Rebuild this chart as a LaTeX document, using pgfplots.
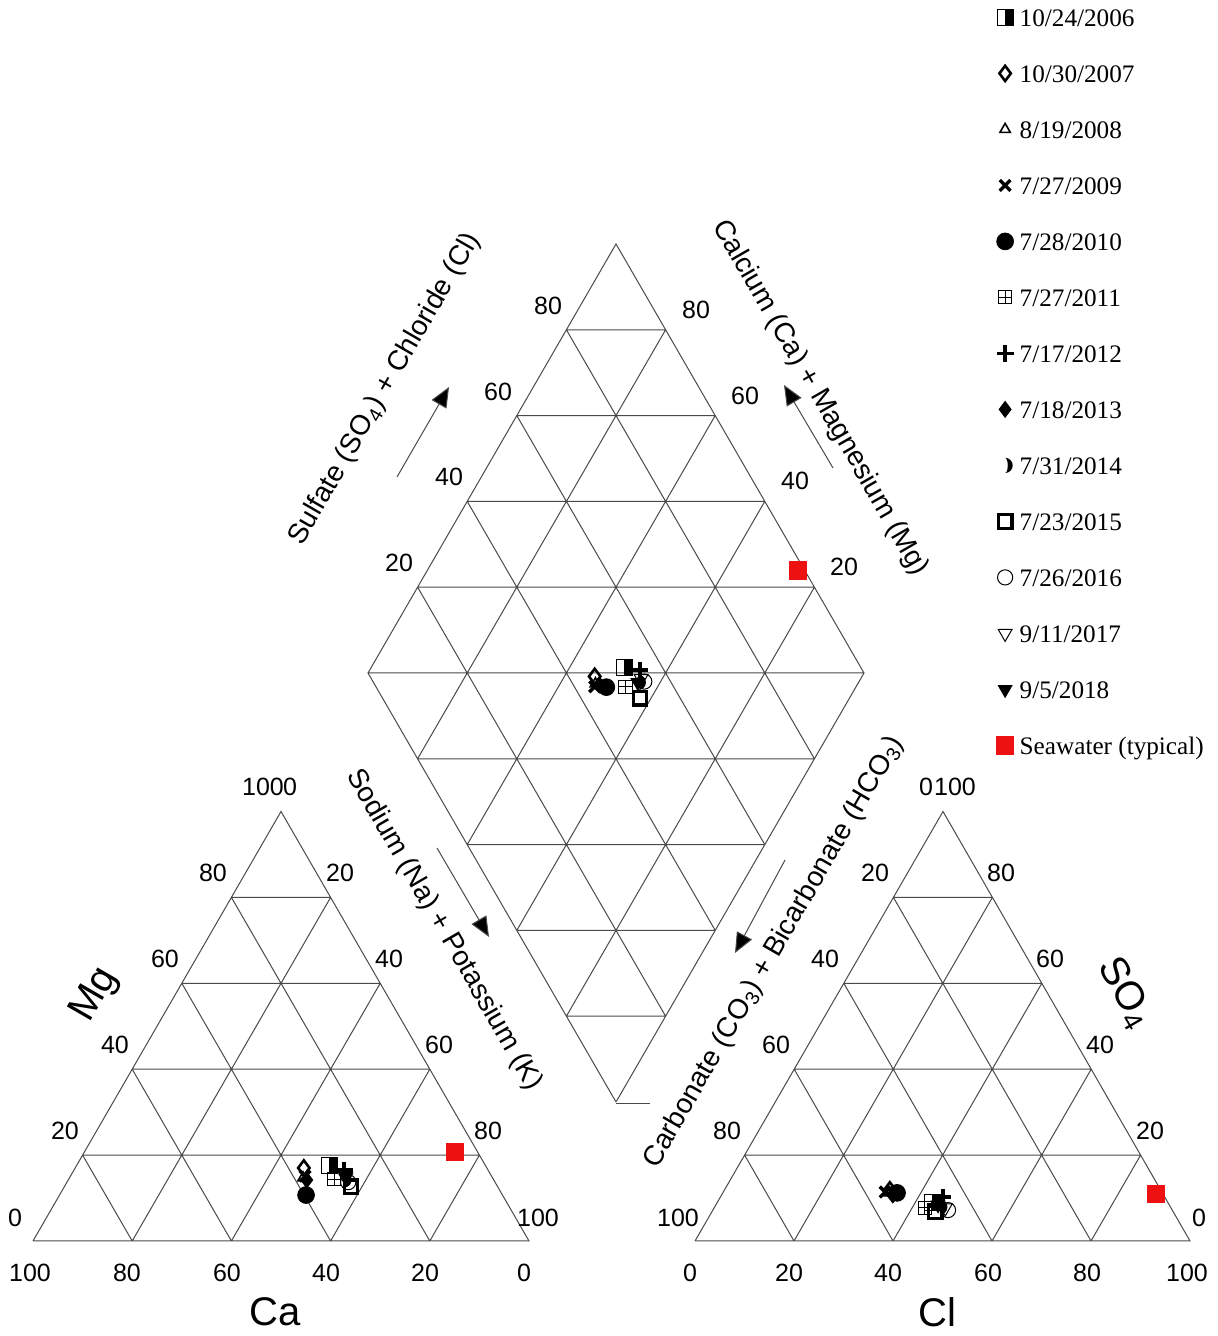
\documentclass[border=0pt]{standalone}
\usepackage{fontspec}
\setmainfont{Liberation Serif}
\setsansfont{Liberation Sans}
\usepackage{pgfplots}
\usepackage{pgfplotstable}
\pgfplotsset{compat=1.18}
\usetikzlibrary{arrows.meta}

\definecolor{gridc}{HTML}{4A4A4A}
\definecolor{seared}{HTML}{EE1111}

% marks that tikz does not have
\pgfdeclareplotmark{halfsq}{%
  \pgfpathrectangle{\pgfqpoint{0pt}{-\pgfplotmarksize}}{\pgfqpoint{\pgfplotmarksize}{2\pgfplotmarksize}}%
  \pgfusepathqfillstroke
  \pgfpathrectangle{\pgfqpoint{-\pgfplotmarksize}{-\pgfplotmarksize}}{\pgfqpoint{2\pgfplotmarksize}{2\pgfplotmarksize}}%
  \pgfusepathqstroke}
\pgfdeclareplotmark{gridsquare}{%
  \pgfpathrectangle{\pgfqpoint{-\pgfplotmarksize}{-\pgfplotmarksize}}{\pgfqpoint{2\pgfplotmarksize}{2\pgfplotmarksize}}%
  \pgfpathmoveto{\pgfqpoint{0pt}{-\pgfplotmarksize}}\pgfpathlineto{\pgfqpoint{0pt}{\pgfplotmarksize}}%
  \pgfpathmoveto{\pgfqpoint{-\pgfplotmarksize}{0pt}}\pgfpathlineto{\pgfqpoint{\pgfplotmarksize}{0pt}}%
  \pgfusepathqstroke}
\pgfdeclareplotmark{moon}{%
  \pgfpathmoveto{\pgfqpoint{0pt}{\pgfplotmarksize}}%
  \pgfpatharc{90}{-90}{\pgfplotmarksize}%
  \pgfpatharc{-90}{90}{0.35\pgfplotmarksize and \pgfplotmarksize}%
  \pgfpathclose\pgfusepathqfill}

% milliequivalent percentages: cations Ca, Mg (rest Na+K), anions Cl, SO4 (rest CO3+HCO3)
\pgfplotstableread{
Ca   Mg   Cl   SO4
31.4 17.5 43.3 9.1
36.9 17.0 33.4 11.9
38.2 14.7 33.4 11.2
37.6 15.1 32.7 11.4
39.6 10.7 35.2 11.2
32.1 14.4 42.6 7.7
29.0 16.5 45.0 10.2
37.7 14.2 34.6 10.7
30.2 14.2 45.5 7.9
29.6 12.6 45.1 6.8
29.6 13.7 47.5 7.2
29.6 14.7 46.7 7.7
29.4 15.1 44.9 8.4
4.6  20.7 87.7 10.9
}\chem

% one sample -> cation triangle, anion triangle, diamond
\newcommand{\sample}[3]{%
  \addplot[only marks, #2, forget plot, restrict expr to domain={\coordindex}{#1:#1}]
    table[x expr={529-4.96*\thisrow{Ca}-2.48*\thisrow{Mg}}, y expr={4.295*\thisrow{Mg}-1241}] {\chem};
  \addplot[only marks, #2, forget plot, restrict expr to domain={\coordindex}{#1:#1}]
    table[x expr={695+4.95*\thisrow{Cl}+2.48*\thisrow{SO4}}, y expr={4.295*\thisrow{SO4}-1241}] {\chem};
  \addplot[only marks, #2, restrict expr to domain={\coordindex}{#1:#1}]
    table[x expr={616+2.48*(\thisrow{Cl}+\thisrow{SO4}-\thisrow{Ca}-\thisrow{Mg})},
          y expr={4.29*(\thisrow{Ca}+\thisrow{Mg}+\thisrow{Cl}+\thisrow{SO4})-1102}] {\chem};
  \addlegendentry{#3}}

\tikzset{
  tl/.style={font=\sffamily\fontsize{12.5}{12.5}\selectfont, inner sep=0pt},
  big/.style={font=\sffamily\fontsize{20}{20}\selectfont, inner sep=0pt},
  side/.style={font=\sffamily\fontsize{14}{14}\selectfont, inner sep=0pt},
  arr/.style={draw=gridc, line width=0.5pt, -{Triangle[length=10pt,width=8.5pt,fill=black]}},
}

\begin{document}
\begin{tikzpicture}
\begin{axis}[
  width=608.5pt, height=668pt, scale only axis,
  xmin=0, xmax=1217, ymin=-1336, ymax=0,
  hide axis, clip=false,
  gridline/.style={draw=gridc, line width=0.5pt, no marks, empty line=jump, forget plot},
  legend style={at={(axis description cs:0.8185,0.9955)}, anchor=north west,
    draw=none, fill=none, inner sep=0pt, row sep=17pt, column sep=2pt,
    font=\fontsize{12.6}{12.6}\selectfont,
    nodes={inner sep=1pt, text height=9pt, text depth=0pt}},
  legend cell align=left,
  legend image code/.code={\draw[mark repeat=1,#1] plot coordinates {(0pt,0pt)};},
]

% cation triangle (Ca, Mg)
\addplot[gridline] table[x expr={529-4.96*\thisrow{Ca}-2.48*\thisrow{Mg}}, y expr={4.295*\thisrow{Mg}-1241}] {
Ca Mg
100 0
0 0
0 100
100 0

20 0
20 80

40 0
40 60

60 0
60 40

80 0
80 20

0 20
80 20

0 40
60 40

0 60
40 60

0 80
20 80

80 0
0 80

60 0
0 60

40 0
0 40

20 0
0 20
};

% anion triangle (Cl, SO4)
\addplot[gridline] table[x expr={695+4.95*\thisrow{Cl}+2.48*\thisrow{SO4}}, y expr={4.295*\thisrow{SO4}-1241}] {
Cl SO4
0 0
100 0
0 100
0 0

20 0
20 80

40 0
40 60

60 0
60 40

80 0
80 20

0 20
80 20

0 40
60 40

0 60
40 60

0 80
20 80

80 0
0 80

60 0
0 60

40 0
0 40

20 0
0 20
};

% diamond (p = Ca+Mg, q = Cl+SO4)
\addplot[gridline] table[x expr={616+2.48*(\thisrow{q}-\thisrow{p})}, y expr={4.29*(\thisrow{p}+\thisrow{q})-1102}] {
p q
0 0
100 0
100 100
0 100
0 0

20 0
20 100

40 0
40 100

60 0
60 100

80 0
80 100

0 20
100 20

0 40
100 40

0 60
100 60

0 80
100 80

20 0
0 20

40 0
0 40

60 0
0 60

80 0
0 80

100 0
0 100

100 20
20 100

100 40
40 100

100 60
60 100

100 80
80 100
};
\draw[draw=gridc, line width=0.5pt] (axis cs:616,-1104) -- (axis cs:650,-1104);

% samples
\sample{0}{black, mark=halfsq, mark size=4pt, mark options={fill=black, line width=0.4pt}}{10/24/2006}
\sample{1}{black, mark=diamond, mark size=3.8pt, mark options={line width=1.3pt}}{10/30/2007}
\sample{2}{black, mark=triangle, mark size=3pt, mark options={line width=0.8pt}}{8/19/2008}
\sample{3}{black, mark=x, mark size=3.8pt, mark options={line width=1.7pt}}{7/27/2009}
\sample{4}{black, mark=*, mark size=4.2pt, mark options={fill=black}}{7/28/2010}
\sample{5}{black, mark=gridsquare, mark size=3.3pt, mark options={line width=0.5pt}}{7/27/2011}
\sample{6}{black, mark=+, mark size=4.2pt, mark options={line width=1.9pt}}{7/17/2012}
\sample{7}{black, mark=diamond*, mark size=4pt, mark options={fill=black}}{7/18/2013}
\sample{8}{black, mark=moon, mark size=3.8pt, mark options={fill=black}}{7/31/2014}
\sample{9}{black, mark=square, mark size=3.4pt, mark options={line width=1.6pt}}{7/23/2015}
\sample{10}{black, mark=o, mark size=3.8pt, mark options={line width=0.5pt}}{7/26/2016}
\sample{11}{black, mark=triangle, mark size=4pt, mark options={rotate=180, line width=0.5pt}}{9/11/2017}
\sample{12}{black, mark=triangle*, mark size=4pt, mark options={rotate=180, fill=black}}{9/5/2018}
\sample{13}{seared, mark=square*, mark size=4.3pt, mark options={fill=seared, draw=seared}}{Seawater (typical)}

% tick labels, cation triangle
\node[tl] at (axis cs:15,-1218) {0};
\node[tl] at (axis cs:65,-1131) {20};
\node[tl] at (axis cs:115,-1045) {40};
\node[tl] at (axis cs:165,-959) {60};
\node[tl] at (axis cs:213,-873) {80};
\node[tl] at (axis cs:263,-787) {100};
\node[tl] at (axis cs:290,-787) {0};
\node[tl] at (axis cs:340,-873) {20};
\node[tl] at (axis cs:389,-959) {40};
\node[tl] at (axis cs:439,-1045) {60};
\node[tl] at (axis cs:488,-1131) {80};
\node[tl] at (axis cs:538,-1218) {100};
\node[tl] at (axis cs:30,-1273) {100};
\node[tl] at (axis cs:127,-1273) {80};
\node[tl] at (axis cs:227,-1273) {60};
\node[tl] at (axis cs:326,-1273) {40};
\node[tl] at (axis cs:425,-1273) {20};
\node[tl] at (axis cs:524,-1273) {0};
% anion triangle
\node[tl] at (axis cs:690,-1273) {0};
\node[tl] at (axis cs:789,-1273) {20};
\node[tl] at (axis cs:888,-1273) {40};
\node[tl] at (axis cs:988,-1273) {60};
\node[tl] at (axis cs:1087,-1273) {80};
\node[tl] at (axis cs:1187,-1273) {100};
\node[tl] at (axis cs:678,-1218) {100};
\node[tl] at (axis cs:727,-1131) {80};
\node[tl] at (axis cs:776,-1045) {60};
\node[tl] at (axis cs:825,-959) {40};
\node[tl] at (axis cs:875,-873) {20};
\node[tl] at (axis cs:926,-787) {0};
\node[tl] at (axis cs:955,-787) {100};
\node[tl] at (axis cs:1001,-873) {80};
\node[tl] at (axis cs:1050,-959) {60};
\node[tl] at (axis cs:1100,-1045) {40};
\node[tl] at (axis cs:1150,-1131) {20};
\node[tl] at (axis cs:1199,-1218) {0};
% diamond
\node[tl] at (axis cs:548,-306) {80};
\node[tl] at (axis cs:498,-392) {60};
\node[tl] at (axis cs:449,-477) {40};
\node[tl] at (axis cs:399,-563) {20};
\node[tl] at (axis cs:696,-310) {80};
\node[tl] at (axis cs:745,-396) {60};
\node[tl] at (axis cs:795,-481) {40};
\node[tl] at (axis cs:844,-567) {20};

% titles
\node[big] at (axis cs:275,-1312) {Ca};
\node[big] at (axis cs:937,-1312) {Cl};
\node[big, rotate=60] at (axis cs:95,-995) {Mg};
\node[big, rotate=-60] at (axis cs:1125,-993) {SO\textsubscript{4}};
\node[side, rotate=60] at (axis cs:385,-389) {Sulfate (SO\textsubscript{4}) + Chloride (Cl)};
\node[side, rotate=-60] at (axis cs:820,-398) {Calcium (Ca) + Magnesium (Mg)};
\node[side, rotate=-60] at (axis cs:444,-930) {Sodium (Na) + Potassium (K)};
\node[side, rotate=60] at (axis cs:774,-952) {Carbonate (CO\textsubscript{3}) + Bicarbonate (HCO\textsubscript{3})};

% arrows
\draw[arr] (axis cs:397,-477) -- (axis cs:449,-387);
\draw[arr] (axis cs:833,-468) -- (axis cs:784,-385);
\draw[arr] (axis cs:437,-848) -- (axis cs:489,-937);
\draw[arr] (axis cs:785,-860) -- (axis cs:735,-953);
\end{axis}
\pgfresetboundingbox
\path (current axis.south west) rectangle (current axis.north east);
\end{tikzpicture}
\end{document}
